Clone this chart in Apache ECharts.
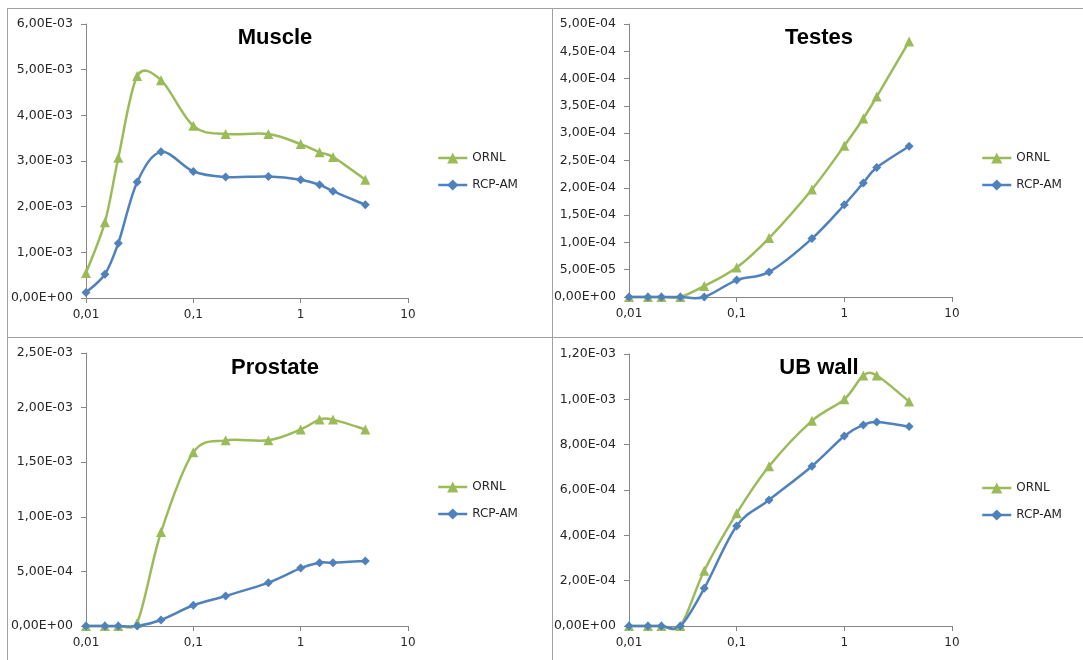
<!DOCTYPE html>
<html>
<head>
<meta charset="utf-8">
<script src="https://cdn.jsdelivr.net/npm/echarts@6/dist/echarts.min.js"></script>
<style>
  html, body { margin: 0; padding: 0; background: #fff; }
  #chart { width: 1083px; height: 660px; }
</style>
</head>
<body>
<div id="chart"></div>
<script>
// Dose points (log x-axis) shared by every organ panel
const doses = [0.01, 0.015, 0.02, 0.03, 0.05, 0.1, 0.2, 0.5, 1, 1.5, 2, 4];

const seriesNames = ['ORNL', 'RCP-AM'];

// Muscle
const muscleORNL = [5.5e-4, 1.66e-3, 3.07e-3, 4.86e-3, 4.77e-3, 3.77e-3, 3.59e-3, 3.59e-3, 3.37e-3, 3.19e-3, 3.09e-3, 2.59e-3];
const muscleRCP  = [1.2e-4, 5.2e-4, 1.2e-3, 2.54e-3, 3.2e-3, 2.77e-3, 2.65e-3, 2.66e-3, 2.59e-3, 2.48e-3, 2.34e-3, 2.04e-3];

// Testes
const testesORNL = [0, 0, 0, 0, 2.0e-5, 5.4e-5, 1.08e-4, 1.97e-4, 2.77e-4, 3.27e-4, 3.67e-4, 4.68e-4];
const testesRCP  = [0, 0, 0, 0, 0, 3.1e-5, 4.6e-5, 1.07e-4, 1.69e-4, 2.09e-4, 2.37e-4, 2.76e-4];

// Prostate
const prostateORNL = [0, 0, 0, 3e-5, 8.6e-4, 1.59e-3, 1.7e-3, 1.7e-3, 1.8e-3, 1.89e-3, 1.89e-3, 1.8e-3];
const prostateRCP  = [0, 0, 0, 0, 5.5e-5, 1.9e-4, 2.75e-4, 3.97e-4, 5.3e-4, 5.8e-4, 5.8e-4, 5.96e-4];

// Urinary bladder wall
const ubWallORNL = [0, 0, 0, 0, 2.44e-4, 4.97e-4, 7.05e-4, 9.05e-4, 1.0e-3, 1.105e-3, 1.105e-3, 9.9e-4];
const ubWallRCP  = [0, 0, 0, 0, 1.66e-4, 4.41e-4, 5.56e-4, 7.05e-4, 8.38e-4, 8.87e-4, 9.0e-4, 8.8e-4];

const panelTitles = ['Muscle', 'Testes', 'Prostate', 'UB wall'];
const panelData = [
  [muscleORNL, muscleRCP],
  [testesORNL, testesRCP],
  [prostateORNL, prostateRCP],
  [ubWallORNL, ubWallRCP]
];
// y-axis range and step per panel
const yMax  = [6e-3, 5e-4, 2.5e-3, 1.2e-3];
const yStep = [1e-3, 5e-5, 5e-4, 2e-4];
// x-axis range
const xMin = 0.01, xMax = 10;

// Layout of the four panels
const grids = [
  { left: 86,  top: 24,  width: 322, height: 274 },
  { left: 629, top: 24,  width: 323, height: 273 },
  { left: 86,  top: 353, width: 322, height: 273 },
  { left: 629, top: 354, width: 323, height: 272 }
];
const titlePos = [
  { x: 270, y: 22 }, { x: 814, y: 22 },
  { x: 270, y: 352 }, { x: 814, y: 352 }
];
const legendPos = [
  { left: 437, top: 152 }, { left: 981, top: 152 },
  { left: 437, top: 481 }, { left: 981, top: 482 }
];

const colors = ['#9BBB59', '#4F81BD'];
const symbols = ['triangle', 'diamond'];
const symbolSizes = [10, 9];
const lineWidth = 2.5;

const labelFont = 'DejaVu Sans';
const labelColor = '#262626';
const axisColor = '#868686';

function sciLabel(v) {
  if (v === 0) return '0,00E+00';
  const parts = v.toExponential(2).split('e');
  const sign = parts[1][0];
  const digits = parts[1].slice(1).padStart(2, '0');
  return parts[0].replace('.', ',') + 'E' + sign + digits;
}
function doseLabel(v) {
  return String(+Number(v).toPrecision(4)).replace('.', ',');
}

// Smoothed connector: each data item draws the cubic segment to the next
// point. Tangents follow the neighbouring points (Catmull-Rom, in pixels),
// with each control arm capped at half the segment length.
function smoothSegment(vals, color) {
  return function (params, api) {
    const j = params.dataIndex;
    const n = doses.length;
    if (j >= n - 1) return null;
    const clampIdx = (k) => Math.max(0, Math.min(n - 1, k));
    const pt = (k) => api.coord([doses[clampIdx(k)], vals[clampIdx(k)]]);
    const p0 = pt(j - 1), p1 = pt(j), p2 = pt(j + 1), p3 = pt(j + 2);
    const seg = Math.hypot(p2[0] - p1[0], p2[1] - p1[1]);
    const arm = (a, b) => {
      let dx = (b[0] - a[0]) / 6, dy = (b[1] - a[1]) / 6;
      const len = Math.hypot(dx, dy);
      const cap = seg * 0.5;
      if (len > cap && len > 0) { dx *= cap / len; dy *= cap / len; }
      return [dx, dy];
    };
    const a1 = arm(p0, p2), a2 = arm(p1, p3);
    return {
      type: 'bezierCurve',
      shape: {
        x1: p1[0], y1: p1[1],
        x2: p2[0], y2: p2[1],
        cpx1: p1[0] + a1[0], cpy1: p1[1] + a1[1],
        cpx2: p2[0] - a2[0], cpy2: p2[1] - a2[1]
      },
      style: { stroke: color, lineWidth: lineWidth, fill: 'none', lineCap: 'round' },
      silent: true
    };
  };
}

const option = {
  animation: false,
  backgroundColor: '#ffffff',
  title: panelTitles.map((t, i) => ({
    text: t,
    left: titlePos[i].x,
    top: titlePos[i].y,
    textAlign: 'center',
    textStyle: { fontFamily: 'Liberation Sans', fontWeight: 'bold', fontSize: 22, color: '#000' }
  })),
  legend: legendPos.map((p) => ({
    data: seriesNames,
    orient: 'vertical',
    left: p.left,
    top: p.top,
    padding: 0,
    itemWidth: 29,
    itemHeight: 14,
    itemGap: 15,
    selectedMode: false,
    lineStyle: { opacity: 1, width: lineWidth },
    textStyle: { fontFamily: labelFont, fontSize: 12, color: labelColor }
  })),
  grid: grids,
  xAxis: grids.map((g, i) => ({
    type: 'log',
    logBase: 10,
    gridIndex: i,
    min: xMin,
    max: xMax,
    axisLine: { lineStyle: { color: axisColor, width: 1 } },
    axisTick: { show: true, length: 5, lineStyle: { color: axisColor } },
    minorTick: { show: false },
    splitLine: { show: false },
    axisLabel: { formatter: doseLabel, margin: 11, fontFamily: labelFont, fontSize: 12, color: labelColor }
  })),
  yAxis: grids.map((g, i) => ({
    type: 'value',
    gridIndex: i,
    min: 0,
    max: yMax[i],
    interval: yStep[i],
    axisLine: { show: true, lineStyle: { color: axisColor, width: 1 } },
    axisTick: { show: true, length: 5, lineStyle: { color: axisColor } },
    splitLine: { show: false },
    axisLabel: { formatter: sciLabel, margin: 13, fontFamily: labelFont, fontSize: 12.5, color: labelColor }
  })),
  series: [],
  graphic: [
    { type: 'line', shape: { x1: 7, y1: 8.5, x2: 1083, y2: 8.5 }, style: { stroke: '#a0a0a0', lineWidth: 1 }, silent: true },
    { type: 'line', shape: { x1: 7.5, y1: 8, x2: 7.5, y2: 660 }, style: { stroke: '#a0a0a0', lineWidth: 1 }, silent: true },
    { type: 'line', shape: { x1: 552.5, y1: 8, x2: 552.5, y2: 660 }, style: { stroke: '#a0a0a0', lineWidth: 1 }, silent: true },
    { type: 'line', shape: { x1: 7, y1: 337.5, x2: 1083, y2: 337.5 }, style: { stroke: '#a0a0a0', lineWidth: 1 }, silent: true }
  ]
};

panelData.forEach((pair, i) => {
  pair.forEach((vals, k) => {
    const points = doses.map((d, j) => [d, vals[j]]);
    // curve through the points
    option.series.push({
      name: seriesNames[k] + ' curve',
      type: 'custom',
      xAxisIndex: i,
      yAxisIndex: i,
      data: points,
      renderItem: smoothSegment(vals, colors[k])
    });
    // markers at the points
    option.series.push({
      name: seriesNames[k],
      type: 'line',
      xAxisIndex: i,
      yAxisIndex: i,
      data: points,
      symbol: symbols[k],
      symbolSize: symbolSizes[k],
      showSymbol: true,
      lineStyle: { color: colors[k], width: lineWidth, opacity: 0 },
      itemStyle: { color: colors[k] }
    });
  });
});

const chart = echarts.init(document.getElementById('chart'), null, { renderer: 'canvas' });
chart.setOption(option);
</script>
</body>
</html>
